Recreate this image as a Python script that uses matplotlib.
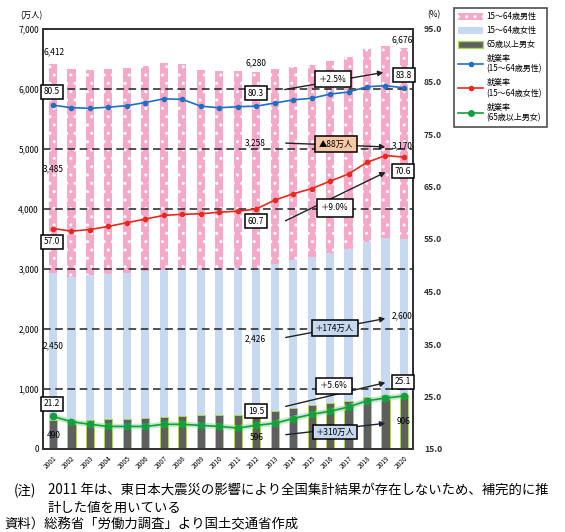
import matplotlib
matplotlib.use('Agg')
import matplotlib.pyplot as plt
from matplotlib.patches import Patch
from matplotlib.lines import Line2D

plt.rcParams['font.family'] = ['Noto Sans CJK JP', 'DejaVu Sans']
plt.rcParams['hatch.linewidth'] = 1.0

# data (万人, %)
years = [str(y) for y in range(2001, 2021)]
old = [490, 477, 480, 492, 504, 510, 538, 553, 565, 570,
       571, 596, 637, 682, 730, 770, 807, 862, 892, 906]
female = [2450, 2395, 2420, 2419, 2435, 2457, 2445, 2441, 2429, 2424,
          2440, 2426, 2441, 2468, 2475, 2491, 2526, 2594, 2619, 2600]
male = [3485, 3458, 3416, 3418, 3417, 3422, 3444, 3415, 3320, 3304,
        3282, 3258, 3248, 3221, 3196, 3204, 3197, 3208, 3213, 3170]
total = [6412, 6330, 6316, 6329, 6356, 6389, 6427, 6409, 6314, 6298,
         6293, 6280, 6326, 6371, 6401, 6465, 6530, 6664, 6724, 6676]
rate_male = [80.5, 80.0, 79.9, 80.1, 80.4, 81.0, 81.7, 81.6, 80.3, 80.0,
             80.2, 80.3, 80.9, 81.5, 81.8, 82.6, 83.0, 84.0, 84.2, 83.8]
rate_female = [57.0, 56.5, 56.8, 57.4, 58.1, 58.8, 59.5, 59.7, 59.8, 60.1,
               60.3, 60.7, 62.4, 63.6, 64.6, 66.0, 67.4, 69.6, 70.9, 70.6]
rate_old = [21.2, 20.2, 19.7, 19.3, 19.3, 19.3, 19.7, 19.7, 19.5, 19.3,
            19.0, 19.5, 19.9, 20.8, 21.6, 22.2, 23.0, 24.2, 24.7, 25.1]

PINK = '#f5a9c9'
LBLUE = '#c6d9f0'
GRAY = '#5f5f5f'
LGREEN = '#a8d55a'
BLUE = '#1f6fc5'
RED = '#e52a1e'
GREEN = '#12a03c'
PEACH = '#f5c8a6'

W, H = 565, 532
def px(x, y):
    return (x / W, 1 - y / H)

fig = plt.figure(figsize=(W / 100, H / 100), dpi=100)
ax = fig.add_axes([43 / W, 1 - 449 / H, 370 / W, 420 / H])
ax2 = ax.twinx()

x = list(range(len(years)))
bw = 0.44
bottom2 = [o + f for o, f in zip(old, female)]
ax.bar(x, old, bw, color=GRAY, edgecolor=LGREEN, linewidth=0.7, zorder=2)
ax.bar(x, female, bw, bottom=old, color=LBLUE, linewidth=0, zorder=2)
ax.bar(x, male, bw, bottom=bottom2, color=PINK, edgecolor='white',
       hatch='..', linewidth=0, zorder=2)

for v in range(1000, 7000, 1000):
    ax.axhline(v, color='#222222', lw=1.1, ls=(0, (5, 3)), zorder=3)

ax.set_xlim(-0.54, 19.49)
ax.set_ylim(0, 7000)
ax.set_yticks(range(0, 7001, 1000))
ax.set_yticklabels([f'{v:,}' for v in range(0, 7001, 1000)], fontsize=6)
ax.set_xticks(x)
ax.set_xticklabels(years, fontsize=4.8, rotation=45, ha='right',
                   rotation_mode='anchor')
ax.tick_params(axis='both', length=0, pad=3)
ax.tick_params(axis='x', pad=4)

ax2.set_ylim(15, 95)
ax2.set_yticks(range(15, 96, 10))
ax2.set_yticklabels([f'{v:.1f}' for v in range(15, 96, 10)], fontsize=6.2,
                    fontweight='bold', color='#333333')
ax2.tick_params(axis='y', length=0, pad=8)

for a in (ax, ax2):
    for s in a.spines.values():
        s.set_color('#333333')
        s.set_linewidth(1.4)

ax2.plot(x, rate_old, color='#9fdca8', lw=4, alpha=0.6, zorder=3)
ax2.plot(x, rate_old, color=GREEN, lw=1.2, marker='o', ms=4.5, zorder=4)
ax2.plot(x, rate_female, color=RED, lw=1.2, marker='o', ms=3, zorder=4)
ax2.plot(x, rate_male, color=BLUE, lw=1.2, marker='o', ms=3, zorder=4)

fig.text(*px(31, 16), '(万人)', fontsize=6, ha='center', va='center')
fig.text(*px(434, 15), '(%)', fontsize=6, ha='center', va='center')

# value labels
def lab(xp, yp, s):
    fig.text(*px(xp, yp), s, fontsize=6, ha='left', va='center')

lab(43, 52, f'{total[0]:,}')
lab(245, 63, f'{total[11]:,}')
lab(392, 40, f'{total[19]:,}')
lab(43, 169, f'{male[0]:,}')
lab(245, 143, f'{male[11]:,}')
lab(392, 146, f'{male[19]:,}')
lab(43, 346, f'{female[0]:,}')
lab(245, 339, f'{female[11]:,}')
lab(392, 316, f'{female[19]:,}')
lab(47, 435, f'{old[0]:,}')
lab(250, 438, f'{old[11]:,}')
lab(397, 421, f'{old[19]:,}')

def boxed(xp, yp, s, fc='white', pad=0.3):
    fig.text(*px(xp, yp), s, fontsize=6, ha='center', va='center', zorder=10,
             bbox=dict(boxstyle=f'square,pad={pad}', fc=fc, ec='black', lw=1.1))

boxed(52, 92, f'{rate_male[0]:.1f}')
boxed(256, 93, f'{rate_male[11]:.1f}')
boxed(404, 75, f'{rate_male[19]:.1f}')
boxed(52, 242, f'{rate_female[0]:.1f}')
boxed(256, 221, f'{rate_female[11]:.1f}')
boxed(403, 171, f'{rate_female[19]:.1f}')
boxed(52, 404, f'{rate_old[0]:.1f}')
boxed(256, 411, f'{rate_old[11]:.1f}')
boxed(403, 382, f'{rate_old[19]:.1f}')

def arrow(x0, y0, x1, y1):
    fig.add_artist(matplotlib.patches.FancyArrowPatch(
        px(x0, y0), px(x1, y1), transform=fig.transFigure,
        arrowstyle='-|>,head_length=3,head_width=1.6', color='#222222',
        lw=1.0, zorder=9))

arrow(282, 90, 386, 72)
arrow(283, 143, 388, 147)
arrow(283, 222, 388, 171)
arrow(283, 338, 388, 318)
arrow(283, 407, 388, 382)
arrow(283, 435, 388, 423)

boxed(333, 79, '＋2.5%', pad=0.45)
boxed(336, 144, '▲88万人', fc=PEACH, pad=0.45)
boxed(335, 208, '＋9.0%', pad=0.5)
boxed(335, 328, '＋174万人', fc=LBLUE, pad=0.45)
boxed(334, 386, '＋5.6%', pad=0.45)
boxed(335, 432, '＋310万人', fc=LBLUE, pad=0.35)

handles = [
    Patch(facecolor=PINK, edgecolor='white', hatch='..', lw=0),
    Patch(facecolor=LBLUE, lw=0),
    Patch(facecolor=GRAY, edgecolor=LGREEN, lw=1.0),
    Line2D([], [], color=BLUE, marker='o', ms=3, lw=1.2),
    Line2D([], [], color=RED, marker='o', ms=3, lw=1.2),
    Line2D([], [], color=GREEN, marker='o', ms=4, lw=1.2),
]
labels = ['15～64歳男性', '15～64歳女性', '65歳以上男女',
          '就業率\n(15～64歳男性)', '就業率\n(15～64歳女性)', '就業率\n(65歳以上男女)']
leg = fig.legend(handles, labels, loc='upper left', bbox_to_anchor=px(454, 8),
                 fontsize=5.8, frameon=True, fancybox=False, handlelength=3.0,
                 handleheight=0.9, labelspacing=0.6, borderpad=0.55,
                 handletextpad=0.5, borderaxespad=0)
leg.get_frame().set_edgecolor('#222222')
leg.get_frame().set_linewidth(1.2)

fs = 9.6
fig.text(*px(14, 491), '(注)', fontsize=fs, ha='left', va='center')
fig.text(*px(48, 491), '2011 年は、東日本大震災の影響により全国集計結果が存在しないため、補完的に推',
         fontsize=fs, ha='left', va='center')
fig.text(*px(48, 508), '計した値を用いている', fontsize=fs, ha='left', va='center')
fig.text(*px(4, 524), '資料）総務省「労働力調査」より国土交通省作成', fontsize=fs,
         ha='left', va='center')

fig.savefig('out.png', dpi=100)
